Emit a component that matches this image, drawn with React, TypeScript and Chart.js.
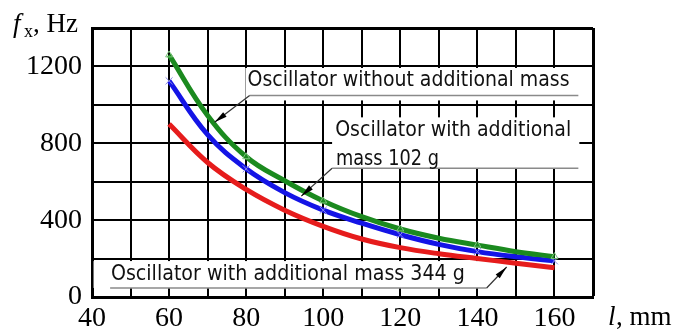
import React, { useEffect, useRef } from 'react';
import { Chart, registerables } from 'chart.js';

Chart.register(...registerables);

// ---- data ----
const lengthsMm = [60, 70, 80, 90, 100, 110, 120, 130, 140, 150, 160];
const freqNoMass = [1260, 945, 730, 605, 500, 418, 354, 306, 270, 236, 210];
const freqMass102 = [1125, 845, 667, 543, 452, 384, 324, 274, 236, 209, 188];
const freqMass344 = [900, 700, 560, 452, 368, 302, 257, 225, 200, 176, 152];
const xTickLabels = [40, 60, 80, 100, 120, 140, 160];
const yTickLabels = [0, 400, 800, 1200];
const labelNoMass = 'Oscillator without additional mass';
const labelMass102 = ['Oscillator with additional', 'mass 102 g'];
const labelMass344 = 'Oscillator with additional mass 344 g';

const SERIF = '"Liberation Serif", "Times New Roman", serif';
const NOTE_FONT = '"DejaVu Sans", sans-serif';

function arrow(ctx: CanvasRenderingContext2D, x0: number, y0: number, x1: number, y1: number) {
  ctx.strokeStyle = '#333';
  ctx.lineWidth = 1.2;
  ctx.beginPath();
  ctx.moveTo(x0, y0);
  ctx.lineTo(x1, y1);
  ctx.stroke();
  const ang = Math.atan2(y1 - y0, x1 - x0);
  const len = 13, half = 2.8;
  const bx = x1 - len * Math.cos(ang), by = y1 - len * Math.sin(ang);
  ctx.fillStyle = '#000';
  ctx.beginPath();
  ctx.moveTo(x1, y1);
  ctx.lineTo(bx + half * Math.sin(ang), by - half * Math.cos(ang));
  ctx.lineTo(bx - half * Math.sin(ang), by + half * Math.cos(ang));
  ctx.closePath();
  ctx.fill();
}

const notesPlugin = {
  id: 'notes',
  beforeDatasetsDraw(chart: any) {
    const { ctx, scales } = chart;
    const X = (v: number) => scales.x.getPixelForValue(v);
    const Y = (v: number) => scales.y.getPixelForValue(v);
    ctx.save();
    // white label boxes over the grid
    const boxes = [
      [79.8, 1192, 169.4, 1023],
      [102.3, 935, 166.45, 670],
      [40.4, 187, 142.9, 47],
    ];
    ctx.fillStyle = '#fff';
    for (const b of boxes) {
      ctx.fillRect(X(b[0]), Y(b[1]), X(b[2]) - X(b[0]), Y(b[3]) - Y(b[1]));
    }
    // underlines
    ctx.strokeStyle = '#8a8a8a';
    ctx.lineWidth = 1.5;
    const unders = [
      [80.9, 166.2, 1049],
      [102.3, 166.2, 670],
      [44.7, 142.4, 47],
    ];
    for (const u of unders) {
      ctx.beginPath();
      ctx.moveTo(X(u[0]), Y(u[2]));
      ctx.lineTo(X(u[1]), Y(u[2]));
      ctx.stroke();
    }
    // texts
    ctx.fillStyle = '#111';
    ctx.font = `22px ${NOTE_FONT}`;
    ctx.textBaseline = 'middle';
    ctx.textAlign = 'left';
    ctx.fillText(labelNoMass, X(80.35), Y(1127), 322);
    ctx.fillText(labelMass102[0], X(103.1), Y(868), 236);
    ctx.fillText(labelMass102[1], X(103.3), Y(717), 103);
    ctx.fillText(labelMass344, X(44.9), Y(119), 354);
    ctx.restore();
  },
  afterDatasetsDraw(chart: any) {
    const { ctx, scales } = chart;
    const X = (v: number) => scales.x.getPixelForValue(v);
    const Y = (v: number) => scales.y.getPixelForValue(v);
    ctx.save();
    arrow(ctx, X(80.9), Y(1049), X(71.8), Y(909));
    arrow(ctx, X(102.3), Y(670), X(94.3), Y(525));
    arrow(ctx, X(142.4), Y(47), X(147.6), Y(156));
    // axis titles
    ctx.fillStyle = '#000';
    ctx.textBaseline = 'alphabetic';
    ctx.textAlign = 'left';
    ctx.font = `italic 27px ${SERIF}`;
    ctx.fillText('f', 13, 32);
    ctx.font = `18px ${SERIF}`;
    ctx.fillText('x', 24, 37);
    ctx.font = `27px ${SERIF}`;
    ctx.fillText(', Hz', 33, 32);
    ctx.font = `italic 27px ${SERIF}`;
    ctx.fillText('l', 608, 325);
    ctx.font = `27px ${SERIF}`;
    ctx.fillText(', mm', 616, 325);
    ctx.restore();
  },
};

export default function App() {
  const ref = useRef<HTMLCanvasElement | null>(null);
  useEffect(() => {
    document.body.style.margin = '0';
    const evenOnly = (r: number) => lengthsMm.map((v) => (v % 20 === 0 ? r : 0));
    const chart = new Chart(ref.current as HTMLCanvasElement, {
      type: 'line',
      data: {
        labels: lengthsMm,
        datasets: [
          {
            label: 'Without additional mass',
            data: lengthsMm.map((l, i) => ({ x: l, y: freqNoMass[i] })),
            borderColor: '#1b8a1f',
            borderWidth: 5,
            pointStyle: 'triangle',
            pointRadius: evenOnly(4),
            pointBorderColor: '#7cc47c',
            pointBackgroundColor: 'rgba(0,0,0,0)',
            pointBorderWidth: 1,
            tension: 0.4,
          },
          {
            label: 'Additional mass 102 g',
            data: lengthsMm.map((l, i) => ({ x: l, y: freqMass102[i] })),
            borderColor: '#1414e6',
            borderWidth: 5,
            pointStyle: 'crossRot',
            pointRadius: evenOnly(5),
            pointBorderColor: '#8a8ae6',
            pointBorderWidth: 1,
            tension: 0.4,
          },
          {
            label: 'Additional mass 344 g',
            data: lengthsMm.map((l, i) => ({ x: l, y: freqMass344[i] })),
            borderColor: '#e61c1c',
            borderWidth: 5,
            pointRadius: 0,
            tension: 0.4,
          },
        ],
      },
      options: {
        animation: false,
        responsive: false,
        events: [],
        layout: { padding: { top: 28, right: 82, left: 0, bottom: 0 } },
        plugins: { legend: { display: false }, tooltip: { enabled: false } },
        scales: {
          x: {
            type: 'linear',
            min: 40,
            max: 170,
            afterFit: (s: any) => { s.height = 34; },
            ticks: {
              stepSize: 10,
              autoSkip: false,
              maxRotation: 0,
              padding: 5,
              color: '#000',
              font: { family: SERIF, size: 28 },
              callback: (v: any) => (xTickLabels.includes(Number(v)) ? String(v) : ''),
            },
            grid: {
              color: '#000',
              lineWidth: (c: any) => (c.tick && c.tick.value === 170 ? 3 : 2),
              drawTicks: false,
            },
            border: { display: true, color: '#000', width: 3 },
          },
          y: {
            type: 'linear',
            min: 0,
            max: 1400,
            afterFit: (s: any) => { s.width = 92; },
            ticks: {
              stepSize: 200,
              padding: 10,
              color: '#000',
              font: { family: SERIF, size: 28 },
              callback: (v: any) => (yTickLabels.includes(Number(v)) ? String(v) : ''),
            },
            grid: {
              color: '#000',
              lineWidth: (c: any) => (c.tick && c.tick.value === 1400 ? 3 : 2),
              drawTicks: false,
            },
            border: { display: true, color: '#000', width: 3 },
          },
        },
      },
      plugins: [notesPlugin],
    } as any);
    return () => chart.destroy();
  }, []);
  return (
    <div style={{ position: 'fixed', left: 0, top: 0, width: 675, height: 331, background: '#fff' }}>
      <canvas ref={ref} width={675} height={331} />
    </div>
  );
}
